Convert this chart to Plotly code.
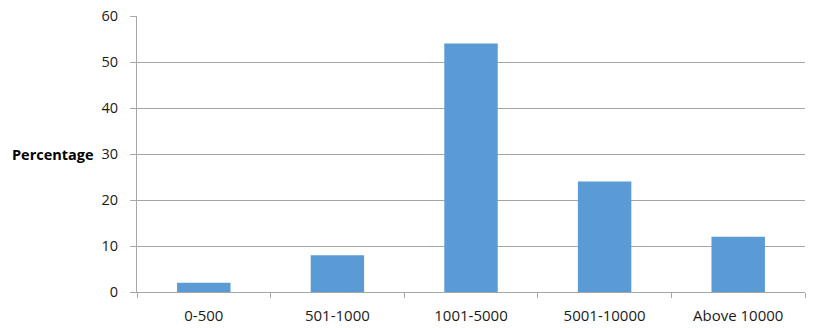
import plotly.graph_objects as go

categories = ["0-500", "501-1000", "1001-5000", "5001-10000", "Above 10000"]
values = [2, 8, 54, 24, 12]
y_ticks = [0, 10, 20, 30, 40, 50, 60]

fig = go.Figure(go.Bar(x=categories, y=values, marker=dict(color="#5B9BD5", line=dict(width=0)), width=0.4))

grid = "#A6A6A6"
fig.update_layout(
    width=819, height=328,
    margin=dict(l=137, r=14, t=16, b=36),
    plot_bgcolor="white", paper_bgcolor="white",
    showlegend=False,
    font=dict(family="Open Sans, Liberation Sans, sans-serif", size=13, color="#1a1a1a"),
    xaxis=dict(type="category", showline=True, linecolor=grid, linewidth=1, automargin=False,
               ticks="outside", tickson="boundaries", ticklen=5, tickcolor=grid,
               ticklabelstandoff=10,
               showgrid=False, tickfont=dict(size=15)),
    yaxis=dict(range=[0, 60], tickvals=y_ticks, showgrid=True, gridcolor=grid, gridwidth=1,
               automargin=False,
               showline=True, linecolor=grid, linewidth=1, ticks="outside", ticklen=6,
               ticklabelstandoff=9,
               tickcolor=grid, zeroline=False, tickfont=dict(size=14.5)),
    annotations=[dict(text="<b>Percentage</b>", xref="paper", yref="paper", x=-0.0615, y=0.5,
                      xanchor="right", yanchor="middle", showarrow=False,
                      font=dict(size=14.5, color="#000000"))],
)
fig.write_html("out.html")
